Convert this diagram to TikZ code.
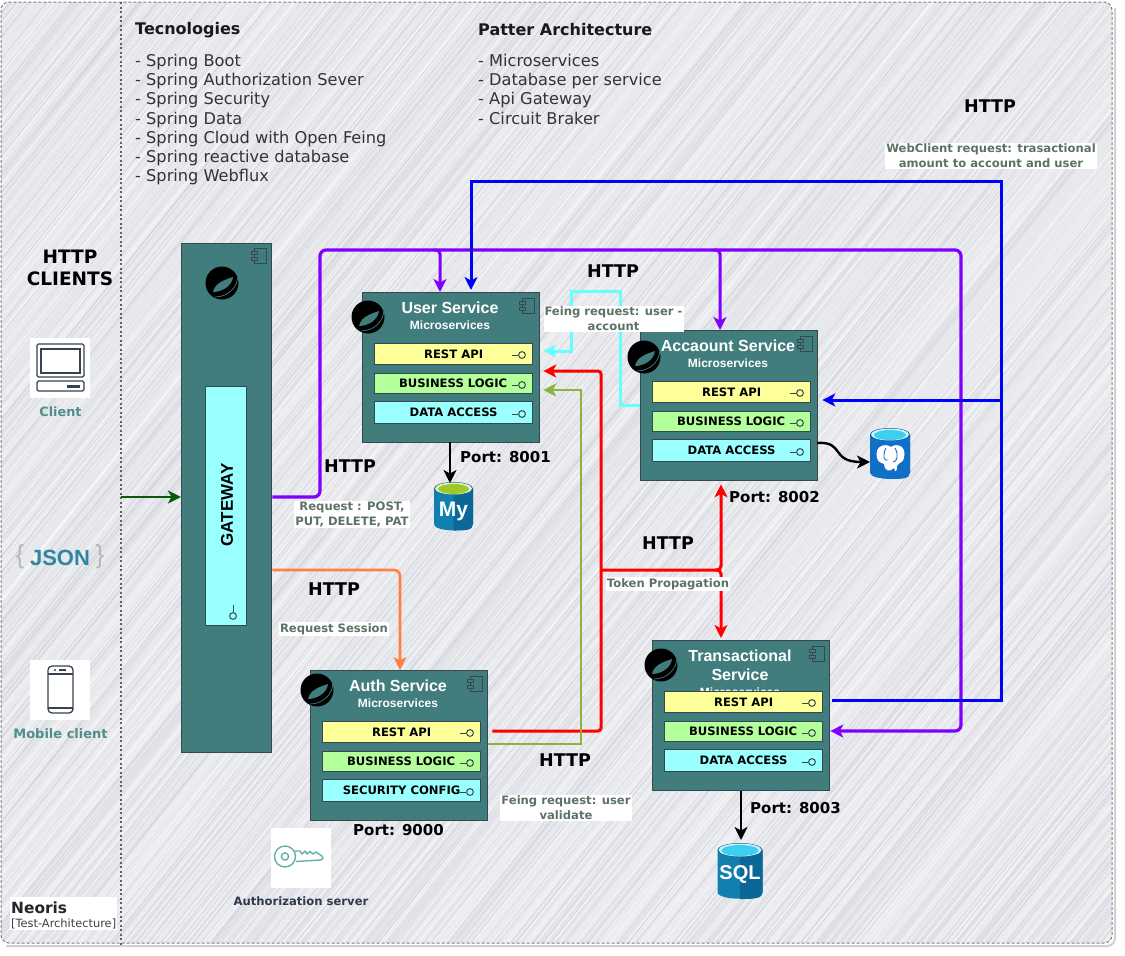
\documentclass[tikz,border=0pt]{standalone}
\usepackage{fontspec}
\setmainfont{DejaVu Sans}
\newfontfamily\arialf{Liberation Sans}
\usetikzlibrary{arrows.meta,calc}
\definecolor{teal1}{HTML}{417D7D}
\definecolor{edge1}{HTML}{37474F}
\definecolor{hbg}{HTML}{E8E9ED}
\definecolor{h1}{HTML}{F7F7FA}
\definecolor{h2}{HTML}{DDDEE4}
\definecolor{h3}{HTML}{F0F0F4}
\definecolor{h4}{HTML}{D5D6DE}
\definecolor{lblc}{HTML}{5B7266}
\definecolor{clic}{HTML}{4E8F8A}
\definecolor{icon1}{HTML}{36424F}
\definecolor{keyc}{HTML}{67B0A2}
\definecolor{pur}{HTML}{7F00FF}
\definecolor{blu}{HTML}{0000FF}
\definecolor{cya}{HTML}{66FFFF}
\definecolor{oli}{HTML}{8DB33C}
\definecolor{ora}{HTML}{FF8040}
\definecolor{grn}{HTML}{0B5A0B}
\definecolor{rowy}{HTML}{FFFF99}
\definecolor{rowg}{HTML}{B3FF99}
\definecolor{rowc}{HTML}{99FFFF}
\definecolor{authc}{HTML}{2B3A4C}
\definecolor{jsonc}{HTML}{2E86A0}
\definecolor{dbl}{HTML}{1180B0}
\definecolor{dbr}{HTML}{0B6796}
\definecolor{mylime}{HTML}{A0C828}
\definecolor{sqlc}{HTML}{3CCFEF}
\definecolor{pgb}{HTML}{1070C8}
\newcommand\fs[2]{\fontsize{#1}{#2}\selectfont}
\tikzset{
  x=1pt,y=-1pt,
  tipb/.style={-{Stealth[length=13pt,width=13pt,inset=3.5pt]}},
  conn/.style={line width=#1,rounded corners=4pt,line join=round},
  conn/.default=3pt,
  svc/.style={draw=edge1,line width=1.3pt,fill=teal1,anchor=north west,minimum width=177pt,minimum height=150pt,inner sep=0pt},
  rowbox/.style={draw=edge1,line width=1.2pt,anchor=north west,minimum width=158pt,inner sep=0pt,font=\bfseries\fs{11.6}{13},text=black},
  svct/.style={text=white,anchor=north,align=center,inner sep=0pt,font=\arialf\bfseries\fs{16}{19}},
  http/.style={font=\bfseries\fs{17.5}{21},text=black,align=center,inner sep=0pt},
  port/.style={font=\bfseries\fs{15}{17},text=black,inner sep=0pt},
  lbl/.style={fill=white,inner sep=1pt,font=\bfseries\fs{11.6}{15},text=lblc,align=center},
  whitebox/.style={fill=white,minimum size=60pt,inner sep=0pt,anchor=north west},
  hd/.style={font=\bfseries\fs{16}{18},text=black!90,anchor=west,inner sep=0pt},
  lst/.style={font=\fs{16.2}{19.2},text=black!80,anchor=north west,align=left,inner sep=0pt},
  lolli/.style={draw=edge1,line width=1pt},
}
\newcommand\sprlogo[2]{%
  \begin{scope}[shift={(#1,#2)}]
    \fill[black] (0,0) circle (16.5pt);
    \fill[teal1] (-9,9) .. controls (-7,0) and (2,-3) .. (11,-6) .. controls (10,3) and (0,9) .. (-9,9);
    \draw[teal1,line width=.7pt] (16,-10) .. controls (17,4) and (6,14) .. (-7,14);
  \end{scope}}
\newcommand\cmpicon[2]{%
  \begin{scope}[shift={(#1,#2)}]
    \draw[edge1,line width=1pt] (-17,0) rectangle (-5,15);
    \draw[edge1,fill=teal1,line width=1pt] (-20,3.5) rectangle (-14,6.5);
    \draw[edge1,fill=teal1,line width=1pt] (-20,9) rectangle (-14,12);
  \end{scope}}
\newcommand\rowlolli[2]{%
  \draw[lolli] ({#1+150},{#2+2}) -- ({#1+156},{#2+2});
  \draw[lolli] ({#1+160},{#2+2}) circle (3.4pt);}
% name, x, y, title+sub, row3
\newcommand\svcbox[5]{%
  \node[svc] (#1) at (#2,#3) {};
  \node[svct] (#1title) at ({#2+88},{#3+10}) {#4};
  \node[rowbox,fill=rowy,minimum height=20.5pt] (#1rest) at ({#2+12},{#3+51}) {REST API};
  \node[rowbox,fill=rowg,minimum height=20.5pt] (#1biz) at ({#2+11.5},{#3+80.5}) {BUSINESS LOGIC};
  \node[rowbox,fill=rowc,minimum height=22pt] (#1data) at ({#2+12},{#3+108.5}) {#5};
  \rowlolli{#2}{#3+61}
  \rowlolli{#2}{#3+91}
  \rowlolli{#2}{#3+120}
  \cmpicon{#2+177}{#3+6}}
\newcommand\titsub[1]{#1\\[-3pt]{\fs{12}{14}Microservices}}
\newcommand\dbicon[8]{% cx top rx ry h  colL colR inner
  \begin{scope}[shift={(#1,#2)}]
    \fill[#6] (-#3,0) -- (-#3,#5) .. controls (-#3,{#5+#4+2}) and (#3,{#5+#4+2}) .. (#3,#5) -- (#3,0) -- cycle;
    \fill[#7] (0,0) -- (0,{#5+#4}) .. controls ({#3*.6},{#5+#4}) and (#3,{#5+#4}) .. (#3,#5) -- (#3,0) -- cycle;
    \fill[#6!80!black] (0,0) ellipse ({#3*1pt} and {#4*1pt});
    \fill[white!75!#8] (0,0) ellipse ({(#3-1)*1pt} and {(#4-.5)*1pt});
    \fill[#8] (0,.5) ellipse ({(#3-4)*1pt} and {(#4-1.5)*1pt});
  \end{scope}}
\begin{document}
\begin{tikzpicture}
\useasboundingbox (0,0) rectangle (1125,956);
\fill[white] (0,0) rectangle (1125,956);
% frame shadow
\draw[black!18,line width=2pt,rounded corners=8pt] (1115,8) -- (1115,946) -- (6,946);
% hatched ground
\begin{scope}
\clip[rounded corners=8pt] (1,2) rectangle (1112,943);
\fill[hbg] (0,0) rectangle (1125,956);
\pgfmathsetseed{7}
\foreach \i in {-800,-797.5,...,1125}{
  \pgfmathrandominteger{\cc}{1}{4}
  \pgfmathrandominteger{\ww}{4}{10}
  \pgfmathrandominteger{\dd}{-12}{12}
  \draw[color=h\cc,line width=\ww/10*1pt] (\i,956) -- ({\i+770+\dd},0);
}
\end{scope}
\coordinate (divTop) at (121,2);
\coordinate (divBot) at (121,945);
\coordinate (divOut) at (121,497);
\draw[black!50,line width=1pt,dash pattern=on 3pt off 2pt,rounded corners=8pt] (1,2) rectangle (1112,943);
\draw[black!62,line width=1.1pt,dash pattern=on 2pt off 2.5pt] (divTop) -- (divBot);
%
\node[hd] (tech) at (135,30) {Tecnologies};
\node[lst] (techlist) at (135,54) {- Spring Boot\\- Spring Authorization Sever\\- Spring Security\\- Spring Data\\- Spring Cloud with Open Feing\\- Spring reactive database\\- Spring Webflux};
\node[hd] (patt) at (478,30) {Patter Architecture};
\node[lst] (pattlist) at (478,54) {- Microservices\\- Database per service\\- Api Gateway\\- Circuit Braker};
%
\node[http,font=\bfseries\fs{18.5}{22}] (clients) at (70,268) {HTTP\\CLIENTS};
\node[whitebox] (clientbox) at (30,338) {};
\node[font=\bfseries\fs{12.8}{14},text=clic,inner sep=0pt] (clientlbl) at (60.5,412) {Client};
\draw[icon1,line width=1.3pt,rounded corners=1.5pt] (37,344) rectangle (84,377);
\draw[icon1,line width=1.3pt] (41,349) rectangle (80,373);
\draw[icon1,line width=1.3pt,rounded corners=1.5pt] (37,381) rectangle (84,391);
\fill[icon1] (67,384.5) rectangle (80,387.5);
\node[inner sep=0pt,font=\arialf\fs{26}{28},text=black!28] (jsonl) at (20,557) {\{};
\node[inner sep=0pt,font=\arialf\fs{26}{28},text=black!28] (jsonr) at (100,557) {\}};
\node[inner sep=0pt,font=\arialf\bfseries\fs{22}{26},text=jsonc] (json) at (60,558) {JSON};
\node[whitebox] (mobilebox) at (30,660) {};
\node[font=\bfseries\fs{13}{15},text=clic,inner sep=0pt] (mobilelbl) at (60.5,734) {Mobile client};
\draw[icon1,line width=1.3pt,rounded corners=4pt] (48,666) rectangle (73,713);
\draw[icon1,line width=1.2pt] (48,674) -- (73,674);
\draw[icon1,line width=1.2pt] (48,708) -- (73,708);
\fill[icon1] (55,670) circle (1.2pt);
\draw[icon1,line width=1.2pt] (59,670) -- (66,670);
\node[anchor=north west,fill=white,minimum width=107pt,minimum height=33pt,inner sep=0pt] (neobox) at (10,897) {};
\node[anchor=west,inner sep=0pt,font=\bfseries\fs{15.4}{17},text=black!85] (neoris) at (11,908) {Neoris};
\node[anchor=west,inner sep=0pt,font=\fs{11.4}{13},text=black!75] (neotest) at (11,923.5) {[Test-Architecture]};
%
\node[draw=edge1,line width=1.3pt,fill=teal1,anchor=north west,minimum width=90pt,minimum height=509pt,inner sep=0pt] (gateway) at (181,243) {};
\node[draw=edge1,line width=1.2pt,fill=rowc,anchor=north west,minimum width=41pt,minimum height=239pt,inner sep=0pt] (gwinner) at (205,386) {};
\node[rotate=90,inner sep=0pt,font=\arialf\bfseries\fs{17}{19},text=black] (gwtext) at (227,505) {GATEWAY};
\draw[lolli] (233,605) -- (233,612);
\draw[lolli] (233,616) circle (3.4pt);
\sprlogo{222}{283}
\cmpicon{271}{248}
\svcbox{user}{362}{292}{\titsub{User Service}}{DATA ACCESS}
\svcbox{acc}{640}{330}{\titsub{Accaount Service}}{DATA ACCESS}
\svcbox{auth}{310}{670}{\titsub{Auth Service}}{SECURITY CONFIG}
\svcbox{trans}{652}{640}{\titsub{Transactional\\Service}}{DATA ACCESS}
\sprlogo{368}{317}
\sprlogo{644}{357}
\sprlogo{317}{690}
\sprlogo{661}{665}
% icons
\node[whitebox] (keybox) at (270.5,827.5) {};
\node[font=\bfseries\fs{11.6}{14},text=authc,inner sep=0pt] (keylbl) at (301,901) {Authorization server};
\draw[keyc,line width=1.4pt,line join=round] (294,851) -- (300,851) -- (302,854) -- (305,851) -- (307,854) -- (310,851.5) -- (313,854) -- (316,852) -- (322,856) -- (323,858) -- (321,860) -- (296,861.5);
\draw[keyc,line width=1.4pt] (285,856.5) circle (10.5pt);
\draw[keyc,line width=1.4pt] (285,856.5) circle (3.6pt);
% databases
\dbicon{453.5}{488.5}{19.5}{6.5}{35.5}{dbl}{dbr}{mylime}
\node[inner sep=0pt,text=white,font=\arialf\bfseries\fs{21}{24}] (mylbl) at (453.5,511) {My};
\dbicon{890}{434.5}{20}{6.5}{38}{pgb}{pgb}{sqlc}
\dbicon{740}{850}{22.5}{7}{42}{dbl}{dbr}{sqlc}
\node[inner sep=0pt,text=white,font=\arialf\bfseries\fs{20}{24}] (sqllbl) at (740,874) {SQL};
% elephant
\fill[white] (877,458) .. controls (874,445) and (886,443) .. (891,447) .. controls (896,443) and (907,445) .. (904,458) .. controls (903,463) and (899,462) .. (897,466) .. controls (897,472) and (895,473) .. (894,468) .. controls (890,472) and (885,472) .. (884,464) .. controls (881,463) and (878,462) .. (877,458) -- cycle;
\draw[pgb,line width=.9pt] (886,448) .. controls (882,455) and (884,462) .. (888,460);
\draw[pgb,line width=.9pt] (895,448) .. controls (899,455) and (897,462) .. (893,462);
% connectors
\coordinate (pA) at (320,497);
\coordinate (pB) at (320,250);
\coordinate (pC) at (961,250);
\coordinate (pD) at (961,731);
\coordinate (pU) at (440,250);
\coordinate (pV) at (720,250);
\draw[pur,conn=3.2pt,rounded corners=6pt,tipb] (gateway.east |- pA) -- (pA) -- (pB) -- (pC) -- (pD) -- (trans.east |- pD);
\draw[pur,conn=3pt,tipb,rounded corners=4pt] ([xshift=-6pt]pU) -- (pU) -- (pU |- user.north);
\draw[pur,conn=3pt,tipb,rounded corners=4pt] ([xshift=-6pt]pV) -- (pV) -- (pV |- acc.north);
\coordinate (bA) at (1001,700);
\coordinate (bB) at (1001,181);
\coordinate (bC) at (471,181);
\coordinate (bD) at (1001,400);
\draw[blu,line width=3pt,line join=miter,tipb] ([xshift=2pt]trans.east |- bA) -- (bA) -- (bB) -- (bC) -- ([yshift=2pt]bC |- user.north);
\draw[blu,line width=3pt,tipb] (bD) -- ([xshift=4pt]acc.east |- bD);
\coordinate (cA) at (620,405);
\coordinate (cB) at (620,291);
\coordinate (cC) at (571,291);
\coordinate (cD) at (571,351);
\draw[cya,line width=3pt,line join=miter,tipb] (acc.west |- cA) -- (cA) -- (cB) -- (cC) -- (cD) -- ([xshift=3pt]user.east |- cD);
\coordinate (rA) at (601,731);
\coordinate (rB) at (601,371);
\coordinate (rC) at (601,570);
\coordinate (rD) at (721,570);
\draw[red,line width=3pt,rounded corners=3pt,tipb] ([xshift=4pt]auth.east |- rA) -- (rA) -- (rB) -- ([xshift=3pt]user.east |- rB);
\draw[red,line width=3pt,rounded corners=4pt,tipb] (rC) -- (rD) -- ([yshift=-3pt]rD |- acc.south);
\draw[red,line width=3pt,rounded corners=4pt,tipb] ([xshift=-6pt]rD) -- (rD) -- ([yshift=2pt]rD |- trans.north);
\coordinate (oA) at (581,744);
\coordinate (oB) at (581,390);
\draw[oli,line width=2.6pt,tipb] (auth.east |- oA) -- (oA) -- (oB) -- ([xshift=3pt]user.east |- oB);
\coordinate (oA1) at (400,570);
\draw[ora,line width=2.6pt,rounded corners=6pt,tipb] (gateway.east |- oA1) -- (oA1) -- (oA1 |- auth.north);
\draw[grn,line width=2.4pt,tipb] (divOut) -- (gateway.west |- divOut);
\coordinate (kA) at (450,442);
\coordinate (kB) at (450,483);
\draw[black,line width=2.6pt,tipb] (kA) -- (kB);
\coordinate (kC) at (741,791);
\coordinate (kD) at (741,840);
\draw[black,line width=2.6pt,tipb] (kC) -- (kD);
\coordinate (kE) at (817,443);
\coordinate (kF) at (870,462);
\draw[black,line width=2.4pt,tipb] (kE) .. controls (845,441) and (830,462) .. (kF);
% labels
\node[http] (h1) at (613,271) {HTTP};
\node[http] (h2) at (350,466) {HTTP};
\node[http] (h3) at (334,589) {HTTP};
\node[http] (h4) at (668,543) {HTTP};
\node[http] (h5) at (565,760) {HTTP};
\node[http] (h6) at (990,106) {HTTP};
\node[port,anchor=west] (p1) at (460,457) {Port: 8001};
\node[port,anchor=west] (p2) at (729,497) {Port: 8002};
\node[port,anchor=west] (p3) at (353,830) {Port: 9000};
\node[port,anchor=west] (p4) at (750,808) {Port: 8003};
\node[lbl] (l1) at (613.5,319) {Feing request: user -\\account};
\node[lbl] (l2) at (352,514.5) {Request : POST,\\PUT, DELETE, PAT};
\node[lbl] (l3) at (334,629) {Request Session};
\node[lbl] (l4) at (668,584) {Token Propagation};
\node[lbl] (l5) at (566,808) {Feing request: user\\validate};
\node[lbl] (l6) at (991,156) {WebClient request: trasactional\\amount to account and user};
\end{tikzpicture}
\end{document}
